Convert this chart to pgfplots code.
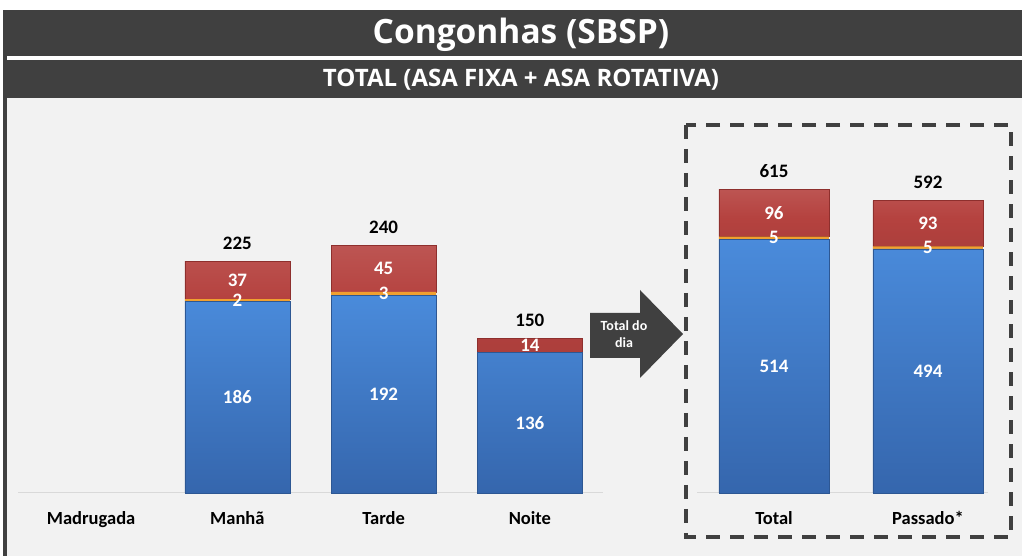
\documentclass[border=0pt]{standalone}
\usepackage{pgfplots}
\pgfplotsset{compat=1.18}
\usepackage{pgfplotstable}
\usepackage{fontspec}
\setmainfont{Carlito}
\newfontfamily\osans{Open Sans}
\definecolor{dark}{HTML}{404040}
\definecolor{bg}{HTML}{F2F2F2}
\definecolor{bluetop}{HTML}{4A8BDB}
\definecolor{bluebot}{HTML}{3566AD}
\definecolor{redf}{HTML}{B5423F}
\definecolor{redd}{HTML}{8E2F2D}
\definecolor{orangef}{HTML}{F0A030}

\pgfplotstableread{
x blue orange red total olab
1 186 2 37 225 2
2 192 3 45 240 3
3 136 0 14 150 {}
}\leftdata
\pgfplotstableread{
x blue orange red total olab
0 514 5 96 615 5
1 494 5 93 592 5
}\rightdata

\pgfplotsset{
  mybars/.style={
    ybar stacked, scale only axis, ymin=0, enlargelimits=false, clip=false,
    axis x line=bottom, axis y line=none, ytick=\empty,
    x axis line style={-, draw=black!15, line width=1pt},
    major tick length=0pt,
    xticklabel style={font=\bfseries\fontsize{18.5}{18.5}\selectfont, yshift=-15pt},
  },
  lbl/.style={
    scale only axis, ymin=0, enlargelimits=false, clip=false, axis lines=none,
  },
  wl/.style={draw=none, mark=none, nodes near coords, point meta=explicit symbolic,
    nodes near coords style={text=white, font=\bfseries\fontsize{19}{19}\selectfont, anchor=center}},
  tl/.style={draw=none, mark=none, nodes near coords, point meta=explicit symbolic,
    nodes near coords style={text=black, font=\bfseries\fontsize{19}{19}\selectfont, anchor=south, yshift=8pt}},
  bluebar/.style={top color=bluetop, bottom color=bluebot, draw=bluebot!85!black, line width=0.6pt},
  orangebar/.style={fill=orangef, draw=none},
  redbar/.style={top color=redf!90!white, bottom color=redf!95!black, middle color=redf, draw=redd, line width=0.6pt},
}

\begin{document}
\begin{tikzpicture}
\useasboundingbox (0pt,0pt) rectangle (1022pt,556pt);
\fill[white] (0pt,0pt) rectangle (1022pt,556pt);
\fill[bg] (7pt,0pt) rectangle (1022pt,458pt);
\fill[dark] (3pt,0pt) rectangle (7pt,546pt);
\fill[dark] (3pt,500pt) rectangle (1022pt,546pt);
\fill[dark] (3pt,458pt) rectangle (1022pt,496pt);
\node[text=white, font=\osans\bfseries\fontsize{33.5}{33.5}\selectfont] at (521pt,521pt) {Congonhas (SBSP)};
\node[text=white, font=\osans\bfseries\fontsize{24}{24}\selectfont] at (521pt,476pt) {TOTAL (ASA FIXA + ASA ROTATIVA)};

\begin{axis}[mybars, at={(18pt,63pt)}, anchor=south west,
  width=585pt, height=257.75pt, xmin=-0.5, xmax=3.5, ymax=250, bar width=105pt,
  xtick={0,1,2,3}, xticklabels={Madrugada, Manhã, Tarde, Noite}]
\addplot[bluebar] table[x=x, y=blue] {\leftdata};
\addplot[orangebar] table[x=x, y=orange] {\leftdata};
\addplot[redbar] table[x=x, y=red] {\leftdata};
\end{axis}
\begin{axis}[lbl, at={(18pt,63pt)}, anchor=south west,
  width=585pt, height=257.75pt, xmin=-0.5, xmax=3.5, ymax=250]
\addplot[wl] table[x=x, y expr=\thisrow{blue}/2, meta=blue] {\leftdata};
\addplot[wl] table[x=x, y expr=\thisrow{blue}+\thisrow{orange}/2, meta=olab] {\leftdata};
\addplot[wl] table[x=x, y expr=\thisrow{blue}+\thisrow{orange}+\thisrow{red}/2, meta=red] {\leftdata};
\addplot[tl] table[x=x, y=total, meta=total] {\leftdata};
\end{axis}

\begin{axis}[mybars, at={(697pt,63pt)}, anchor=south west,
  width=291pt, height=321.1pt, xmin=-0.5, xmax=1.39, ymax=650, bar width=110pt,
  xtick={0,1}, xticklabels={Total, Passado*}]
\addplot[bluebar] table[x=x, y=blue] {\rightdata};
\addplot[orangebar] table[x=x, y=orange] {\rightdata};
\addplot[redbar] table[x=x, y=red] {\rightdata};
\end{axis}
\begin{axis}[lbl, at={(697pt,63pt)}, anchor=south west,
  width=291pt, height=321.1pt, xmin=-0.5, xmax=1.39, ymax=650]
\addplot[wl] table[x=x, y expr=\thisrow{blue}/2, meta=blue] {\rightdata};
\addplot[wl] table[x=x, y expr=\thisrow{blue}+\thisrow{orange}/2, meta=olab] {\rightdata};
\addplot[wl] table[x=x, y expr=\thisrow{blue}+\thisrow{orange}+\thisrow{red}/2, meta=red] {\rightdata};
\addplot[tl] table[x=x, y=total, meta=total] {\rightdata};
\end{axis}

% arrow
\fill[dark] (590pt,243pt) -- (640pt,243pt) -- (640pt,266pt) -- (683pt,222pt) -- (640pt,178pt) -- (640pt,198pt) -- (590pt,198pt) -- cycle;
\node[text=white, font=\bfseries\fontsize{14}{17}\selectfont, align=center] at (624pt,222pt) {Total do\\dia};

% dashed box
\draw[dark, line width=3.5pt, dash pattern=on 14pt off 10pt] (686pt,431pt) rectangle (1011pt,19pt);
\end{tikzpicture}
\end{document}
